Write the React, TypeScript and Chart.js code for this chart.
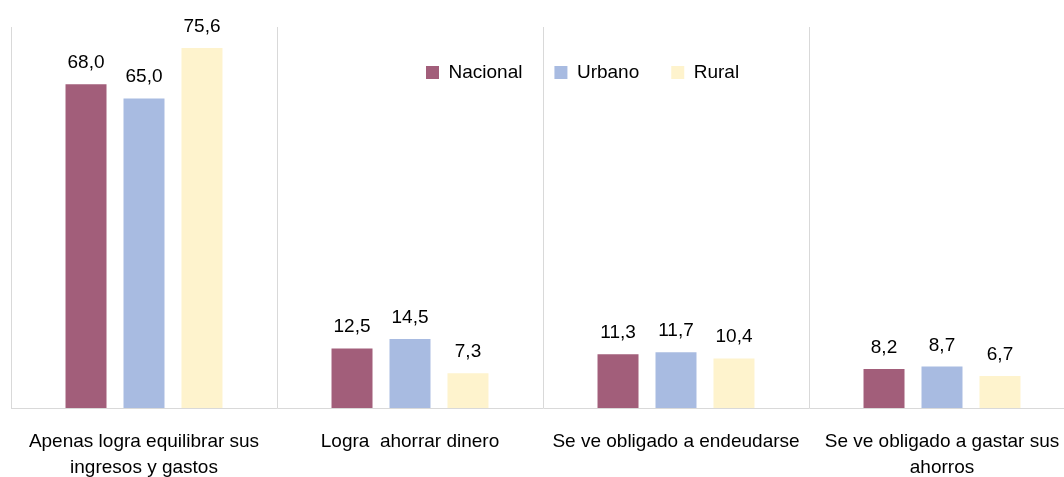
import React, { useEffect, useRef } from "react";
import { Chart, registerables } from "chart.js";

Chart.register(...registerables);

const categories: (string | string[])[] = [
  ["Apenas logra equilibrar sus", "ingresos y gastos"],
  "Logra  ahorrar dinero",
  "Se ve obligado a endeudarse",
  ["Se ve obligado a gastar sus", "ahorros"],
];
const seriesNames = ["Nacional", "Urbano", "Rural"];
const nacional = [68.0, 12.5, 11.3, 8.2];
const urbano = [65.0, 14.5, 11.7, 8.7];
const rural = [75.6, 7.3, 10.4, 6.7];
const colors = ["#A25E7A", "#A8BBE1", "#FEF3CD"];

const FONT = "'Liberation Sans', Arial, sans-serif";
const LEGEND_PAD = 32;

const valueLabels = {
  id: "valueLabels",
  afterDatasetsDraw(chart: any) {
    const ctx = chart.ctx;
    ctx.save();
    ctx.font = `19px ${FONT}`;
    ctx.fillStyle = "#000";
    ctx.textAlign = "center";
    ctx.textBaseline = "alphabetic";
    chart.data.datasets.forEach((ds: any, i: number) => {
      const meta = chart.getDatasetMeta(i);
      meta.data.forEach((el: any, j: number) => {
        const v = ds.data[j] as number;
        ctx.fillText(v.toFixed(1).replace(".", ","), el.x, el.y - 16);
      });
    });
    ctx.restore();
  },
};

const placeLegend = {
  id: "placeLegend",
  beforeUpdate(chart: any) {
    if (chart.legend) chart.legend.isHorizontal = () => true;
  },
  afterUpdate(chart: any) {
    const l = chart.legend;
    if (!l) return;
    const w = l.width;
    l.left = 426 - LEGEND_PAD;
    l.right = l.left + w;
    l.top = 31;
    l.bottom = l.top + l.height;
    l.adjustHitBoxes();
  },
};

export default function App() {
  const ref = useRef<HTMLCanvasElement>(null);
  useEffect(() => {
    if (!ref.current) return;
    const datasets = [nacional, urbano, rural].map((d, i) => ({
      label: seriesNames[i],
      data: d,
      backgroundColor: colors[i],
      borderWidth: 0,
      barPercentage: 0.707,
      categoryPercentage: 0.654,
    }));
    const chart = new Chart(ref.current, {
      type: "bar",
      data: { labels: categories, datasets },
      options: {
        animation: false,
        responsive: false,
        devicePixelRatio: 1,
        layout: { padding: { left: 11, right: 15, top: 27, bottom: 3 } },
        plugins: {
          legend: {
            position: "chartArea",
            align: "start",
            labels: {
              boxWidth: 13,
              boxHeight: 13,
              padding: LEGEND_PAD,
              color: "#000",
              font: { family: FONT, size: 19 },
            },
          },
          tooltip: { enabled: false },
        },
        scales: {
          x: {
            grid: { display: true, color: "#D9D9D9", drawTicks: false, offset: true },
            border: { display: true, color: "#D9D9D9", width: 1 },
            ticks: {
              autoSkip: false,
              maxRotation: 0,
              padding: 21,
              color: "#000",
              font: { family: FONT, size: 19, lineHeight: 26 / 19 },
            },
          },
          y: { display: false, min: 0, max: 80 },
        },
      },
      plugins: [valueLabels, placeLegend],
    });
    return () => chart.destroy();
  }, []);
  return (
    <div style={{ position: "absolute", left: 0, top: 0, width: 1064, height: 477, overflow: "hidden", background: "#fff" }}>
      <canvas ref={ref} width={1090} height={505} style={{ width: 1090, height: 505, display: "block" }} />
    </div>
  );
}
